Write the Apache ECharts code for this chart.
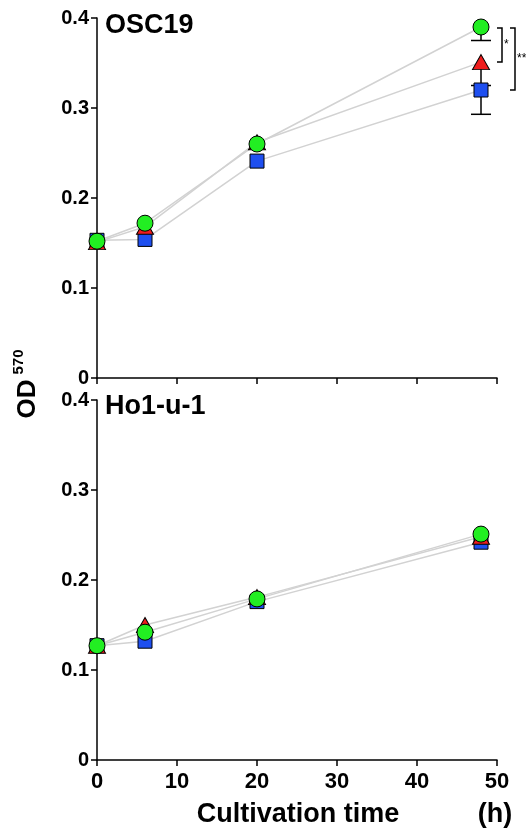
<!DOCTYPE html>
<html>
<head>
<meta charset="utf-8">
<script src="https://cdn.jsdelivr.net/npm/echarts@6/dist/echarts.min.js"></script>
<style>
  html, body { margin: 0; padding: 0; background: #fff; }
  #main { width: 526px; height: 829px; }
</style>
</head>
<body>
<div id="main"></div>
<script>
// cultivation time (h)
const times = [0, 6, 20, 48];

// OSC19 panel
const oscGreen = [0.152, 0.172, 0.260, 0.390];
const oscRed = [0.151, 0.168, 0.262, 0.351];
const oscBlue = [0.153, 0.154, 0.241, 0.320];
const oscGreenErr = [0, 0, 0, 0.015];
const oscRedErr = [0, 0, 0, 0.026];
const oscBlueErr = [0, 0, 0, 0.027];

// Ho1-u-1 panel
const hoGreen = [0.127, 0.142, 0.179, 0.251];
const hoRed = [0.127, 0.150, 0.181, 0.248];
const hoBlue = [0.127, 0.132, 0.176, 0.242];

// significance brackets at 48 h : [top, bottom]
const sigPairs = [[0.390, 0.351], [0.390, 0.320]];
const sigLabels = ['*', '**'];

const yTicks = [0, 0.1, 0.2, 0.3, 0.4];
const panelTitles = ['OSC19', 'Ho1-u-1'];

const FONT = '"Liberation Sans", Arial, sans-serif';
const LINE_GRAY = '#d2d2d2';

const myChart = echarts.init(document.getElementById('main'));

const pts = (ys) => times.map((t, i) => [t, ys[i]]);
const errPts = (ys, es) => times.map((t, i) => [t, ys[i], es[i]]);

function xAxisFor(gridIndex, showLabels) {
  return {
    type: 'value', gridIndex, min: 0, max: 50, interval: 10,
    axisLine: { show: true, onZero: false, lineStyle: { color: '#000', width: 1.5 } },
    axisTick: { show: true, length: 6, lineStyle: { color: '#000', width: 1.5 } },
    axisLabel: { show: showLabels, margin: 11, color: '#000', fontFamily: FONT, fontWeight: 'bold', fontSize: 22 },
    splitLine: { show: false }
  };
}
function yAxisFor(gridIndex) {
  return {
    type: 'value', gridIndex, min: 0, max: 0.4, interval: 0.1,
    axisLine: { show: true, lineStyle: { color: '#000', width: 1.5 } },
    axisTick: { show: true, length: 6, lineStyle: { color: '#000', width: 1.5 } },
    axisLabel: { margin: 8, color: '#000', fontFamily: FONT, fontWeight: 'bold', fontSize: 20,
      formatter: (v) => String(yTicks.find(t => Math.abs(t - v) < 1e-9) ?? v) },
    splitLine: { show: false }
  };
}

function lineSeries(idx, ys) {
  return {
    type: 'line', xAxisIndex: idx, yAxisIndex: idx, data: pts(ys), z: 1,
    showSymbol: false, symbol: 'none', silent: true,
    lineStyle: { color: LINE_GRAY, width: 1.5 }
  };
}
function markSeries(idx, ys, symbol, color, size) {
  return {
    type: 'scatter', xAxisIndex: idx, yAxisIndex: idx, data: pts(ys), z: 4,
    symbol, symbolSize: size,
    itemStyle: { color, borderColor: '#000', borderWidth: 1, opacity: 1 }
  };
}
function errSeries(idx, ys, es) {
  return {
    type: 'custom', xAxisIndex: idx, yAxisIndex: idx, data: errPts(ys, es), z: 3,
    renderItem: function (params, api) {
      const e = api.value(2);
      if (!e) return null;
      const p0 = api.coord([api.value(0), api.value(1)]);
      const p1 = api.coord([api.value(0), api.value(1) - e]);
      const st = { stroke: '#000', lineWidth: 1.5 };
      return {
        type: 'group', children: [
          { type: 'line', shape: { x1: p0[0], y1: p0[1], x2: p1[0], y2: p1[1] }, style: st },
          { type: 'line', shape: { x1: p1[0] - 10, y1: p1[1], x2: p1[0] + 10, y2: p1[1] }, style: st }
        ]
      };
    }
  };
}

const option = {
  animation: false,
  grid: [
    { left: 97, top: 18, width: 400, height: 360 },
    { left: 97, top: 400, width: 400, height: 360 }
  ],
  xAxis: [xAxisFor(0, false), xAxisFor(1, true)],
  yAxis: [yAxisFor(0), yAxisFor(1)],
  graphic: [
    { type: 'text', left: 105, top: 12, style: { text: panelTitles[0], fill: '#000', font: 'bold 27px ' + FONT } },
    { type: 'text', left: 105, top: 393, style: { text: panelTitles[1], fill: '#000', font: 'bold 27px ' + FONT } },
    { type: 'text', x: 298, y: 815, style: { text: 'Cultivation time', fill: '#000', font: 'bold 27px ' + FONT, align: 'center', verticalAlign: 'middle' } },
    { type: 'text', x: 495, y: 815, style: { text: '(h)', fill: '#000', font: 'bold 27px ' + FONT, align: 'center', verticalAlign: 'middle' } },
    { type: 'group', x: 28, y: 399, rotation: Math.PI / 2, children: [
      { type: 'text', x: 0, y: 0, style: { text: 'OD', fill: '#000', font: 'bold 26px ' + FONT, align: 'center', verticalAlign: 'middle' } },
      { type: 'text', x: 37, y: -9, style: { text: '570', fill: '#000', font: 'bold 15px ' + FONT, align: 'center', verticalAlign: 'middle' } }
    ] }
  ],
  series: [
    lineSeries(0, oscBlue), lineSeries(0, oscRed), lineSeries(0, oscGreen),
    lineSeries(1, hoBlue), lineSeries(1, hoRed), lineSeries(1, hoGreen),
    errSeries(0, oscBlue, oscBlueErr), errSeries(0, oscRed, oscRedErr), errSeries(0, oscGreen, oscGreenErr),
    markSeries(0, oscBlue, 'rect', '#1e4ff0', 14),
    markSeries(0, oscRed, 'triangle', '#ee1c1c', [17, 15]),
    markSeries(0, oscGreen, 'circle', '#22ee22', 16),
    markSeries(1, hoBlue, 'rect', '#1e4ff0', 14),
    markSeries(1, hoRed, 'triangle', '#ee1c1c', [17, 15]),
    markSeries(1, hoGreen, 'circle', '#22ee22', 16),
    {
      type: 'custom', xAxisIndex: 0, yAxisIndex: 0, z: 5, clip: false,
      data: sigPairs.map(p => [48, p[0], p[1]]),
      renderItem: function (params, api) {
        const i = params.dataIndex;
        const top = api.coord([api.value(0), api.value(1)]);
        const bot = api.coord([api.value(0), api.value(2)]);
        const x0 = top[0] + 16 + i * 13;
        const x1 = x0 + 5;
        const st = { stroke: '#000', lineWidth: 1.5, fill: null };
        return {
          type: 'group', children: [
            { type: 'polyline', shape: { points: [[x0, top[1] + 1], [x1, top[1] + 1], [x1, bot[1]], [x0, bot[1]]] }, style: st },
            { type: 'text', x: x1 + 2, y: (top[1] + bot[1]) / 2, style: { text: sigLabels[i], fill: '#000', font: '12px ' + FONT, verticalAlign: 'middle' } }
          ]
        };
      }
    }
  ]
};
option && myChart.setOption(option);
</script>
</body>
</html>
